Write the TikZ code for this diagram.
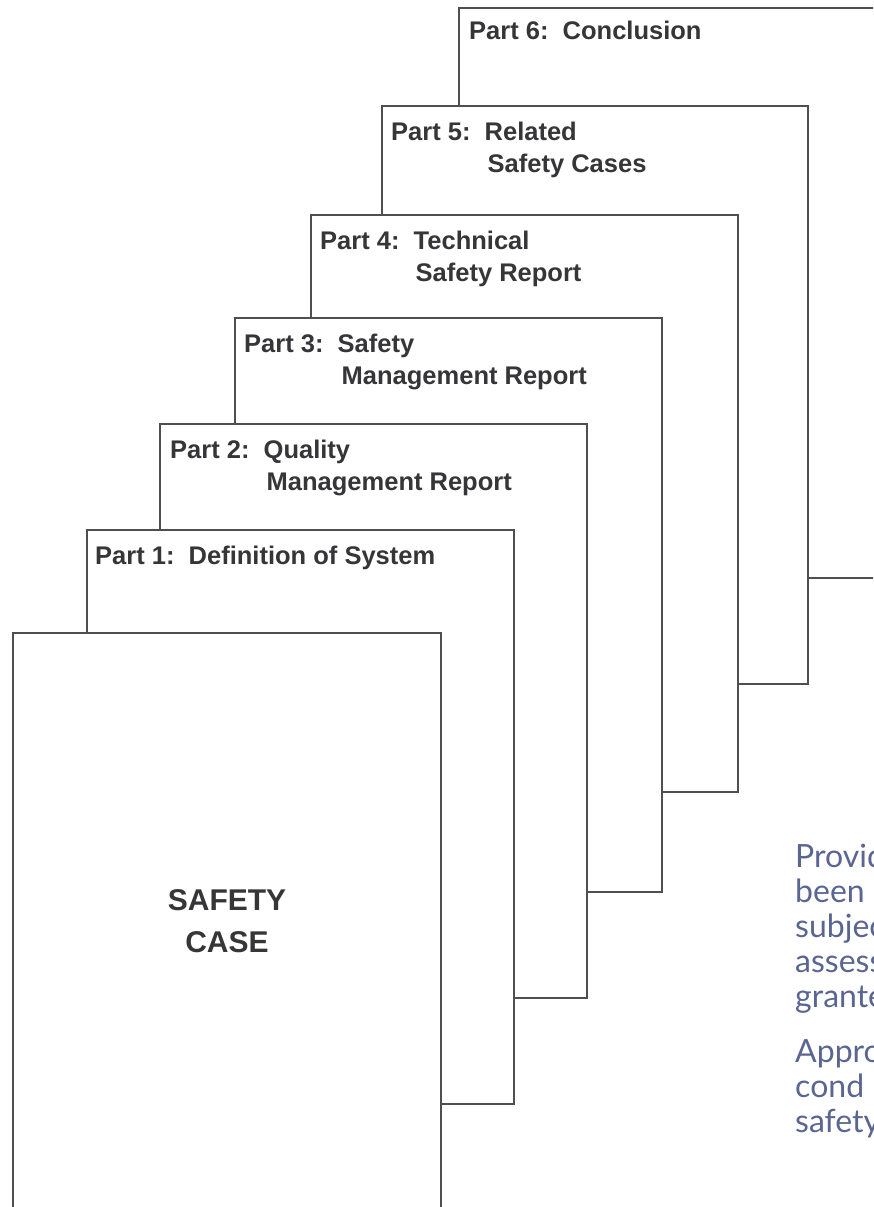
\documentclass[tikz,border=0pt]{standalone}
\usepackage{fontspec}
\setmainfont{Liberation Sans}
\newfontfamily\labelfont{Liberation Sans}
\newfontfamily\notefont{Lato}
\definecolor{edge}{HTML}{4F4F4F}
\definecolor{labeltext}{HTML}{363638}
\definecolor{notetext}{RGB}{90,101,145}
\begin{document}
\begin{tikzpicture}[x=1pt,y=-1pt,
  sheet/.style={draw=edge, line width=1.3pt, fill=white, inner sep=0pt, outer sep=0pt, anchor=north west},
  parttitle/.style={anchor=base west, inner sep=0pt, text=labeltext,
    font=\labelfont\fontsize{25.5}{32}\selectfont\bfseries},
  notetextline/.style={anchor=base west, inner sep=0pt, text=notetext,
    font=\notefont\fontsize{32}{35}\selectfont}]
\useasboundingbox (0,0) rectangle (873,1207);
\clip (0,0) rectangle (873,1207);

% stacked sheets, back to front
\node[sheet, minimum width=427pt, minimum height=570pt] (p6) at (459,8) {};
\node[sheet, minimum width=426pt, minimum height=578pt] (p5) at (382,106) {};
\node[sheet, minimum width=427pt, minimum height=577pt] (p4) at (311,215) {};
\node[sheet, minimum width=427pt, minimum height=574pt] (p3) at (235,318) {};
\node[sheet, minimum width=427pt, minimum height=574pt] (p2) at (160,424) {};
\node[sheet, minimum width=427pt, minimum height=574pt] (p1) at (87,530) {};
\node[sheet, minimum width=428pt, minimum height=600pt] (sc) at (13,633) {};

% sheet titles (second line lines up with the title word)
\node[parttitle] (t6) at ([xshift=10pt,yshift=-32pt]p6.north west) {Part 6:\ \ Conclusion};
\node[parttitle] (t5) at ([xshift=9pt,yshift=-34pt]p5.north west)
  {\begin{tabular}[t]{@{}l@{}}Part 5:\ \ Related\\\phantom{Part 5:\ \ }\hspace{3pt}Safety Cases\end{tabular}};
\node[parttitle] (t4) at ([xshift=9pt,yshift=-34pt]p4.north west)
  {\begin{tabular}[t]{@{}l@{}}Part 4:\ \ Technical\\\phantom{Part 4:\ \ }\hspace{2pt}Safety Report\end{tabular}};
\node[parttitle] (t3) at ([xshift=9pt,yshift=-34pt]p3.north west)
  {\begin{tabular}[t]{@{}l@{}}Part 3:\ \ Safety\\\phantom{Part 3:\ \ }\hspace{4pt}Management Report\end{tabular}};
\node[parttitle] (t2) at ([xshift=10pt,yshift=-34pt]p2.north west)
  {\begin{tabular}[t]{@{}l@{}}Part 2:\ \ Quality\\\phantom{Part 2:\ \ }\hspace{3pt}Management Report\end{tabular}};
\node[parttitle] (t1) at ([xshift=8pt,yshift=-34pt]p1.north west) {Part 1:\ \ Definition of System};

% cover title
\node[text=labeltext, font=\labelfont\fontsize{30}{42}\selectfont\bfseries, align=center, inner sep=0pt]
  (sctitle) at (227,921) {SAFETY\\CASE};

% side note
\node[notetextline] (n1) at (795,867) {Provid};
\node[notetextline] (n2) at (795,902) {been};
\node[notetextline] (n3) at (795,937) {subjec};
\node[notetextline] (n4) at (795,972) {assess};
\node[notetextline] (n5) at (795,1007) {grante};
\node[notetextline] (n6) at (795,1062) {Approv};
\node[notetextline] (n7) at (795,1097) {cond};
\node[notetextline] (n8) at (795,1132) {safety};
\end{tikzpicture}
\end{document}
